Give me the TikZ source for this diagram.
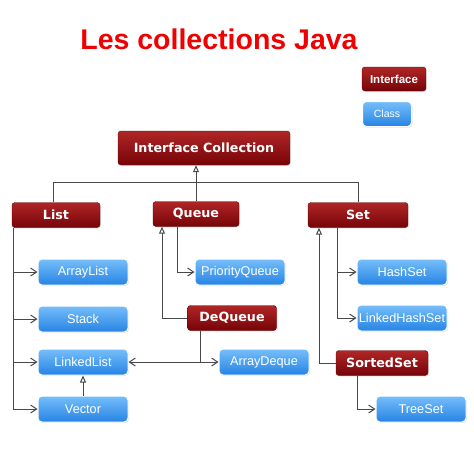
\documentclass[tikz,border=0pt]{standalone}
\usepackage{fontspec}
\setmainfont{Liberation Sans}
\newfontfamily\ifacefont{DejaVu Sans}
\usetikzlibrary{arrows.meta,shadows}
\definecolor{winetop}{RGB}{176,38,38}
\definecolor{winebot}{RGB}{118,4,8}
\definecolor{skytop}{RGB}{118,190,250}
\definecolor{skybot}{RGB}{38,132,228}
\definecolor{linegray}{RGB}{72,72,72}
\definecolor{titlered}{RGB}{240,0,0}
\tikzset{
    %Define standard arrow tip
    >={Straight Barb[length=6pt,width=8pt]},
    inherit/.style={-{Triangle[open,length=7pt,width=6pt]}},
    conn/.style={draw=linegray, line width=1pt},
    ifacebox/.style={rounded corners=3pt, top color=winetop, bottom color=winebot,
        draw=winebot!80!black, text=white, font=\ifacefont\bfseries\fontsize{12.7}{14}\selectfont,
        minimum width=88pt, minimum height=25pt, inner sep=0pt,
        drop shadow={opacity=0.2,shadow xshift=1pt,shadow yshift=-1pt}},
    classbox/.style={rounded corners=4pt, top color=skytop, bottom color=skybot,
        draw=white, line width=1pt, text=white, font=\fontsize{12.7}{14}\selectfont,
        minimum width=90pt, minimum height=26pt, inner sep=0pt,
        drop shadow={opacity=0.2,shadow xshift=1pt,shadow yshift=-1pt}}
}

\begin{document}
\begin{tikzpicture}[x=1pt,y=-1pt]
    \fill[white] (0,0) rectangle (474,475);
    \useasboundingbox (0,0) rectangle (474,475);

    \node[anchor=base, text=titlered, font=\bfseries\fontsize{28.5}{32}\selectfont] (title) at (219,49) {Les collections Java};

    % legend
    \node[ifacebox, minimum width=64pt, minimum height=24pt, font=\bfseries\fontsize{11.5}{13}\selectfont] (ileg) at (394,79) {Interface};
    \node[classbox, minimum width=49pt, minimum height=25pt, font=\fontsize{10.5}{12}\selectfont] (cleg) at (387,114) {Class};

    \node[ifacebox, minimum width=172pt, minimum height=34pt] (coll) at (204,148) {Interface Collection};
    \node[ifacebox] (list) at (56,215) {List};
    \node[ifacebox, minimum width=86pt] (queue) at (196,214) {Queue};
    \node[ifacebox, minimum width=100pt] (set) at (358,215) {Set};
    \node[ifacebox, minimum width=89pt] (dq) at (232,318) {DeQueue};
    \node[ifacebox, minimum width=92pt] (ss) at (382,363) {SortedSet};

    \node[classbox] (al) at (83,272) {ArrayList};
    \node[classbox] (st) at (83,319) {Stack};
    \node[classbox] (ll) at (83,362) {LinkedList};
    \node[classbox] (vec) at (83,409) {Vector};
    \node[classbox] (pq) at (240,272) {PriorityQueue};
    \node[classbox] (ad) at (264,362) {ArrayDeque};
    \node[classbox] (hs) at (402,272) {HashSet};
    \node[classbox] (lhs) at (402,318) {LinkedHashSet};
    \node[classbox] (ts) at (421,409) {TreeSet};

    \coordinate (bus) at ([yshift=19pt]queue.north);
    \draw[conn] ([xshift=-3pt]list.north) |- (bus) -| (set.north);
    \draw[conn, inherit] (queue.north) -- (queue.north |- coll.south);

    \draw[conn, ->] ([xshift=-43pt]list.south) |- (al.west);
    \draw[conn, ->] ([xshift=-43pt]list.south) |- (st.west);
    \draw[conn, ->] ([xshift=-43pt]list.south) |- (ll.west);
    \draw[conn, ->] ([xshift=-43pt]list.south) |- (vec.west);
    \draw[conn, inherit] (vec.north) -- (ll.south);

    \draw[conn, ->] ([xshift=-19pt]queue.south) |- (pq.west);
    \draw[conn, inherit] (dq.west) -| ([xshift=-34pt]queue.south);
    \coordinate (dqs) at ([xshift=-32pt]dq.south);
    \coordinate (dqj) at (dqs |- ll.east);
    \draw[conn] (dqs) -- (dqj);
    \draw[conn, ->] (dqj) -- (ll.east);
    \draw[conn, ->] (dqj) -- (ad.west);

    \draw[conn, ->] ([xshift=-21pt]set.south) |- (hs.west);
    \draw[conn, ->] ([xshift=-21pt]set.south) |- (lhs.west);
    \draw[conn, inherit] (ss.west) -| ([xshift=-39pt]set.south);
    \draw[conn, ->] ([xshift=-25pt]ss.south) |- (ts.west);
\end{tikzpicture}
\end{document}
